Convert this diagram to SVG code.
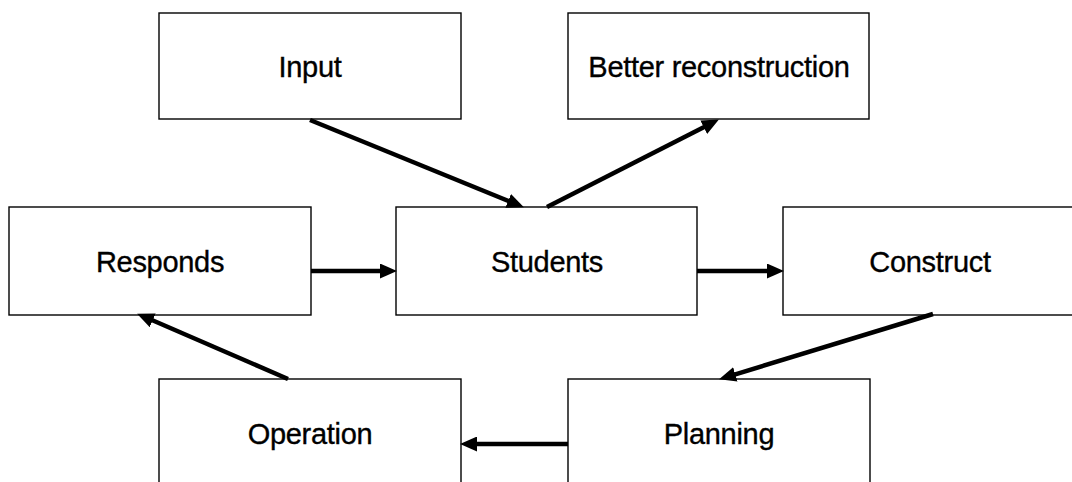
<svg xmlns="http://www.w3.org/2000/svg" width="1072" height="482" viewBox="0 0 1072 482">
  <style>
    .box { fill: #ffffff; stroke: #000000; stroke-width: 1.4; }
    .label { font-family: "Liberation Sans", Arial, sans-serif; font-size: 29px; letter-spacing: -0.3px; fill: #000000; stroke: #000000; stroke-width: 0.35; text-anchor: middle; }
    .link { stroke: #000000; stroke-width: 4.5; fill: none; marker-end: url(#head); }
  </style>
  <defs>
    <marker id="head" markerUnits="userSpaceOnUse" markerWidth="17" markerHeight="15" refX="6" refY="7.5" orient="auto">
      <path d="M0,0 L17,7.5 L0,15 z" fill="#000000"/>
    </marker>
  </defs>
  <rect width="1072" height="482" fill="#ffffff"/>

  <g id="input">
    <rect class="box" x="159" y="13" width="302" height="106"/>
    <text class="label" x="310" y="77">Input</text>
  </g>
  <g id="better-reconstruction">
    <rect class="box" x="568" y="13" width="301" height="106"/>
    <text class="label" x="719" y="77">Better reconstruction</text>
  </g>
  <g id="responds">
    <rect class="box" x="9" y="207" width="302" height="108"/>
    <text class="label" x="160" y="272">Responds</text>
  </g>
  <g id="students">
    <rect class="box" x="396" y="207" width="301" height="108"/>
    <text class="label" x="547" y="272">Students</text>
  </g>
  <g id="construct">
    <rect class="box" x="783" y="207" width="302" height="108"/>
    <text class="label" x="930" y="272">Construct</text>
  </g>
  <g id="operation">
    <rect class="box" x="159" y="379" width="302" height="108"/>
    <text class="label" x="310" y="444">Operation</text>
  </g>
  <g id="planning">
    <rect class="box" x="568" y="379" width="302" height="108"/>
    <text class="label" x="719" y="444">Planning</text>
  </g>

  <g id="connectors">
    <line class="link" x1="310" y1="120" x2="513.7" y2="203.2"/>
    <line class="link" x1="547" y1="207" x2="709.1" y2="124.5"/>
    <line class="link" x1="311" y1="271" x2="386" y2="271"/>
    <line class="link" x1="697" y1="271" x2="773" y2="271"/>
    <line class="link" x1="933" y1="314" x2="729.6" y2="376.1"/>
    <line class="link" x1="568" y1="444" x2="471" y2="444"/>
    <line class="link" x1="288" y1="379" x2="147.2" y2="318"/>
  </g>
</svg>
